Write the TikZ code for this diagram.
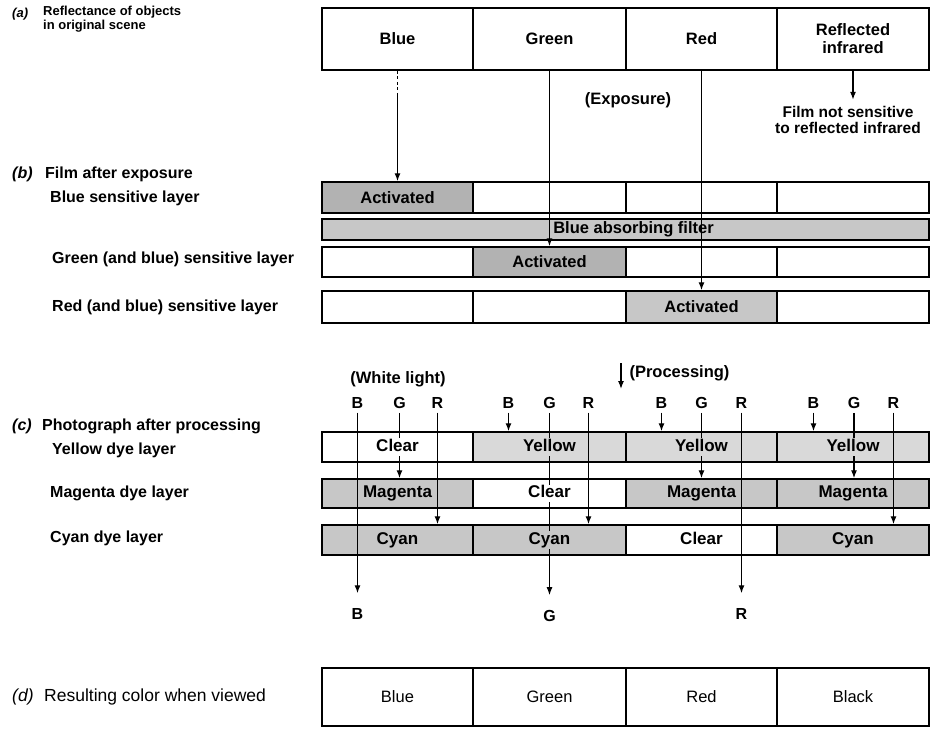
\documentclass[tikz,border=0pt]{standalone}
\usepackage{fontspec}
\setmainfont{Liberation Sans}
\usetikzlibrary{arrows.meta}
\definecolor{shDark}{gray}{0.70}
\definecolor{shMid}{gray}{0.78}
\definecolor{shLight}{gray}{0.85}
\begin{document}
\begin{tikzpicture}[x=1pt,y=-1pt,
  cellbox/.style={draw, line width=1.5pt, inner sep=0pt},
  btxt/.style={font=\bfseries\fontsize{16.5}{18}\selectfont},
  rtxt/.style={font=\fontsize{16.5}{18}\selectfont},
  lbltxt/.style={font=\bfseries\fontsize{16}{18}\selectfont, anchor=west, inner sep=0pt},
  smalllbl/.style={font=\bfseries\fontsize{13}{13.5}\selectfont, anchor=west, inner sep=0pt},
  ray/.style={line width=1.2pt, -{Latex[length=8pt,width=6pt]}},
  ltr/.style={font=\bfseries\fontsize{16}{18}\selectfont, inner sep=1pt},
  ptxt/.style={font=\bfseries\fontsize{17}{19}\selectfont, inner sep=1pt, text height=12pt, text depth=3.5pt}
]
\useasboundingbox (0,0) rectangle (934,728);

% ---------- left labels ----------
\node[smalllbl] (la0) at (12,14) {\itshape (a)};
\node[smalllbl, anchor=north west, align=left] (la1) at (43,6) {Reflectance of objects\\in original scene};
\node[lbltxt] (lb0) at (12,174) {\itshape (b)};
\node[lbltxt] (lb1) at (45,174) {Film after exposure};
\node[lbltxt] (lb2) at (50,198) {Blue sensitive layer};
\node[lbltxt] (lb3) at (52,259) {Green (and blue) sensitive layer};
\node[lbltxt] (lb4) at (52,307) {Red (and blue) sensitive layer};
\node[lbltxt] (lc0) at (12,426) {\itshape (c)};
\node[lbltxt] (lc1) at (42,426) {Photograph after processing};
\node[lbltxt] (lc2) at (52,450) {Yellow dye layer};
\node[lbltxt] (lc3) at (50,493) {Magenta dye layer};
\node[lbltxt] (lc4) at (50,538) {Cyan dye layer};
\node[lbltxt, font=\fontsize{17.5}{19}\selectfont] (ld0) at (12,697) {\itshape (d)};
\node[lbltxt, font=\fontsize{17.5}{19}\selectfont] (ld1) at (44,697) {Resulting color when viewed};

% ---------- (a) scene ----------
\node[cellbox, btxt, minimum width=151pt, minimum height=62pt] (a1) at (397.5,39) {Blue};
\node[cellbox, btxt, minimum width=153pt, minimum height=62pt] (a2) at (549.5,39) {Green};
\node[cellbox, btxt, minimum width=151pt, minimum height=62pt] (a3) at (701.5,39) {Red};
\node[cellbox, btxt, minimum width=152pt, minimum height=62pt, align=center] (a4) at (853,39) {Reflected\\infrared};

\node[btxt, align=center, font=\bfseries\fontsize{15.5}{16}\selectfont] (ir) at (848,120) {Film not sensitive\\to reflected infrared};
\node[btxt] (expo) at (628,100) {(Exposure)};

% ---------- (b) film ----------
\node[cellbox, btxt, fill=shDark, minimum width=151pt, minimum height=31pt] (fb1) at (397.5,197.5) {Activated};
\node[cellbox, minimum width=153pt, minimum height=31pt] (fb2) at (549.5,197.5) {};
\node[cellbox, minimum width=151pt, minimum height=31pt] (fb3) at (701.5,197.5) {};
\node[cellbox, minimum width=152pt, minimum height=31pt] (fb4) at (853,197.5) {};

\node[cellbox, btxt, fill=shMid, minimum width=607pt, minimum height=21pt] (flt) at (625.5,229.5) {\hspace*{16pt}Blue absorbing filter};

\node[cellbox, minimum width=151pt, minimum height=30pt] (fg1) at (397.5,262) {};
\node[cellbox, btxt, fill=shDark, minimum width=153pt, minimum height=30pt] (fg2) at (549.5,262) {Activated};
\node[cellbox, minimum width=151pt, minimum height=30pt] (fg3) at (701.5,262) {};
\node[cellbox, minimum width=152pt, minimum height=30pt] (fg4) at (853,262) {};

\node[cellbox, minimum width=151pt, minimum height=32pt] (fr1) at (397.5,307) {};
\node[cellbox, minimum width=153pt, minimum height=32pt] (fr2) at (549.5,307) {};
\node[cellbox, btxt, fill=shMid, minimum width=151pt, minimum height=32pt] (fr3) at (701.5,307) {Activated};
\node[cellbox, minimum width=152pt, minimum height=32pt] (fr4) at (853,307) {};

\coordinate (bdash) at (397.5,95);
\draw[line width=1.2pt, dash pattern=on 3pt off 2.5pt] (a1.south) -- (bdash);
\draw[ray] (bdash) -- (fb1.north);
\draw[ray] (a2.south) -- (fg2.north);
\draw[ray] (a3.south) -- (fr3.north);
\draw[ray, shorten >=3pt] (a4.south) -- (a4.south |- ir.north);

% ---------- processing ----------
\coordinate (pa) at (621,363);
\coordinate (pb) at (621,389);
\draw[ray] (pa) -- (pb);
\node[btxt, anchor=west] (proc) at (626,373) {(Processing)};
\node[btxt] (wl) at (398,379) {(White light)};

% layers
\node[cellbox, fill=white,   minimum width=151pt, minimum height=30pt] (y1) at (397.5,447) {};
\node[cellbox, fill=shLight, minimum width=153pt, minimum height=30pt] (y2) at (549.5,447) {};
\node[cellbox, fill=shLight, minimum width=151pt, minimum height=30pt] (y3) at (701.5,447) {};
\node[cellbox, fill=shLight, minimum width=152pt, minimum height=30pt] (y4) at (853,447) {};

\node[cellbox, fill=shMid,   minimum width=151pt, minimum height=29pt] (m1) at (397.5,493.5) {};
\node[cellbox, fill=white,   minimum width=153pt, minimum height=29pt] (m2) at (549.5,493.5) {};
\node[cellbox, fill=shMid,   minimum width=151pt, minimum height=29pt] (m3) at (701.5,493.5) {};
\node[cellbox, fill=shMid,   minimum width=152pt, minimum height=29pt] (m4) at (853,493.5) {};

\node[cellbox, fill=shMid,   minimum width=151pt, minimum height=30pt] (c1) at (397.5,540) {};
\node[cellbox, fill=shMid,   minimum width=153pt, minimum height=30pt] (c2) at (549.5,540) {};
\node[cellbox, fill=white,   minimum width=151pt, minimum height=30pt] (c3) at (701.5,540) {};
\node[cellbox, fill=shMid,   minimum width=152pt, minimum height=30pt] (c4) at (853,540) {};

% B G R labels
\node[ltr] (bl1) at (357.5,403) {B};
\node[ltr] (gl1) at (399.5,403) {G};
\node[ltr] (rl1) at (437.5,403) {R};
\node[ltr] (bl2) at (508.5,403) {B};
\node[ltr] (gl2) at (549.5,403) {G};
\node[ltr] (rl2) at (588.5,403) {R};
\node[ltr] (bl3) at (661.5,403) {B};
\node[ltr] (gl3) at (701.5,403) {G};
\node[ltr] (rl3) at (741.5,403) {R};
\node[ltr] (bl4) at (813.5,403) {B};
\node[ltr] (gl4) at (854,403) {G};
\node[ltr] (rl4) at (893.5,403) {R};

\node[ltr] (ob) at (357.5,614) {B};
\node[ltr] (og) at (549.5,616) {G};
\node[ltr] (orr) at (741.5,614) {R};

% rays
\draw[ray, shorten <=3pt, shorten >=14pt] (bl1.south) -- (ob.north);
\draw[ray, shorten <=3pt] (gl1.south) -- (gl1.south |- m1.north);
\draw[ray, shorten <=3pt] (rl1.south) -- (rl1.south |- c1.north);
\draw[ray, shorten <=3pt] (bl2.south) -- (bl2.south |- y2.north);
\draw[ray, shorten <=3pt, shorten >=14pt] (gl2.south) -- (og.north);
\draw[ray, shorten <=3pt] (rl2.south) -- (rl2.south |- c2.north);
\draw[ray, shorten <=3pt] (bl3.south) -- (bl3.south |- y3.north);
\draw[ray, shorten <=3pt] (gl3.south) -- (gl3.south |- m3.north);
\draw[ray, shorten <=3pt, shorten >=14pt] (rl3.south) -- (orr.north);
\draw[ray, shorten <=3pt] (bl4.south) -- (bl4.south |- y4.north);
\draw[ray, shorten <=3pt] (gl4.south) -- (gl4.south |- m4.north);
\draw[ray, shorten <=3pt] (rl4.south) -- (rl4.south |- c4.north);

% layer texts (over the rays)
\node[ptxt, fill=white]   (ty1) at (y1) {Clear};
\node[ptxt, fill=shLight] (ty2) at (y2) {Yellow};
\node[ptxt, fill=shLight] (ty3) at (y3) {Yellow};
\node[ptxt, fill=shLight] (ty4) at (y4) {Yellow};
\node[ptxt, fill=shMid]   (tm1) at (m1) {Magenta};
\node[ptxt, fill=white]   (tm2) at (m2) {Clear};
\node[ptxt, fill=shMid]   (tm3) at (m3) {Magenta};
\node[ptxt, fill=shMid]   (tm4) at (m4) {Magenta};
\node[ptxt, fill=shMid]   (tc1) at (c1) {Cyan};
\node[ptxt, fill=shMid]   (tc2) at (c2) {Cyan};
\node[ptxt, fill=white]   (tc3) at (c3) {Clear};
\node[ptxt, fill=shMid]   (tc4) at (c4) {Cyan};

% ---------- (d) result ----------
\node[cellbox, rtxt, minimum width=151pt, minimum height=58pt] (d1) at (397.5,697) {Blue};
\node[cellbox, rtxt, minimum width=153pt, minimum height=58pt] (d2) at (549.5,697) {Green};
\node[cellbox, rtxt, minimum width=151pt, minimum height=58pt] (d3) at (701.5,697) {Red};
\node[cellbox, rtxt, minimum width=152pt, minimum height=58pt] (d4) at (853,697) {Black};
\end{tikzpicture}
\end{document}
